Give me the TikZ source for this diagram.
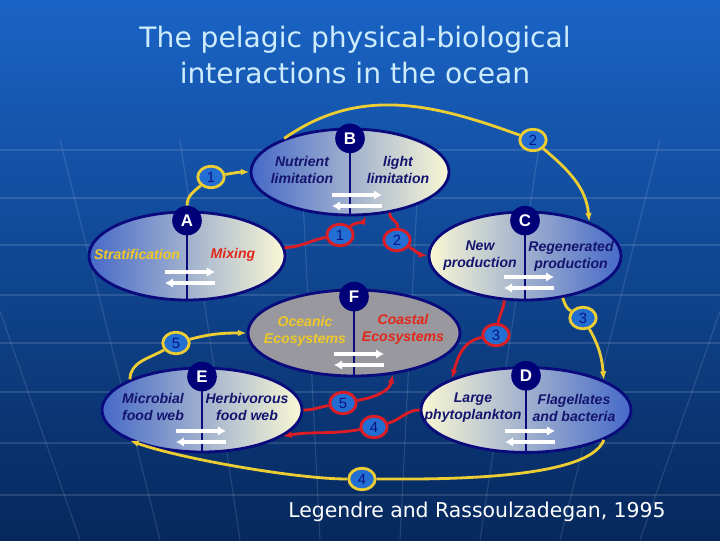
\documentclass[tikz,border=0pt]{standalone}
\usepackage{fontspec}
\setmainfont{Liberation Sans}
\newfontfamily\titlefont{DejaVu Sans}
\usetikzlibrary{arrows.meta,shapes.geometric}

\definecolor{bgtop}{RGB}{26,100,198}
\definecolor{bgbottom}{RGB}{6,40,92}
\definecolor{ovalline}{RGB}{10,10,125}
\definecolor{ovalblue}{RGB}{70,105,200}
\definecolor{ovalpale}{RGB}{250,248,212}
\definecolor{ovalgray}{RGB}{152,152,158}
\definecolor{tagnavy}{RGB}{0,0,120}
\definecolor{numblue}{RGB}{35,110,210}
\definecolor{numtext}{RGB}{10,20,130}
\definecolor{linkyellow}{RGB}{236,206,52}
\definecolor{linkred}{RGB}{222,28,36}
\definecolor{wordnavy}{RGB}{20,20,110}
\definecolor{wordyellow}{RGB}{238,200,40}
\definecolor{wordred}{RGB}{225,40,25}
\definecolor{titlecyan}{RGB}{205,236,252}

\begin{document}
\begin{tikzpicture}[x=0.025cm, y=0.025cm,
  oval/.style={ellipse, draw=ovalline, line width=2pt, inner sep=0pt},
  split/.style={draw=ovalline, line width=2pt},
  tag/.style={circle, fill=tagnavy, text=white, inner sep=0pt, minimum size=0.74cm,
    font=\bfseries\fontsize{12}{12}\selectfont},
  words/.style={align=center, font=\bfseries\itshape\fontsize{10}{12}\selectfont},
  twoway/.style={draw=white, line width=2.5pt, -{Latex[length=2mm, width=2.4mm]}},
  num/.style={ellipse, fill=numblue, line width=2pt, inner sep=0pt, minimum width=0.66cm,
    minimum height=0.54cm, text=numtext, font=\fontsize{10.5}{10.5}\selectfont},
  ynum/.style={num, draw=linkyellow},
  rnum/.style={num, draw=linkred},
  ylink/.style={draw=linkyellow, line width=2pt, -{Latex[length=2.2mm]}},
  rlink/.style={draw=linkred, line width=2pt, -{Latex[length=2.2mm]}},
  gridline/.style={draw=white, opacity=0.12, line width=0.8pt}]

  \useasboundingbox (0,0) rectangle (720,540);
  \shade[top color=bgtop, bottom color=bgbottom] (0,0) rectangle (720,540);

  % faint globe grid
  \begin{scope}
    \clip (0,0) rectangle (720,540);
    \draw[gridline] (0,390) -- (720,390) (0,342) -- (720,342) (0,295) -- (720,295)
      (0,245) -- (720,245) (0,197) -- (720,197) (0,148) -- (720,148)
      (0,97) -- (720,97) (0,45) -- (720,45);
    \draw[gridline] (-60,400) -- (80,0) (60,400) -- (160,0) (180,400) -- (240,0)
      (300,400) -- (320,0) (420,400) -- (400,0) (540,400) -- (480,0)
      (660,400) -- (560,0) (780,400) -- (640,0) (900,400) -- (720,0);
  \end{scope}

  \node[align=center, text=titlecyan, font=\titlefont\fontsize{20}{25}\selectfont] (title) at (355,485)
    {The pelagic physical-biological\\interactions in the ocean};

  % the six ovals
  \node[oval, minimum width=4.9cm, minimum height=2.2cm, left color=ovalblue, right color=ovalpale] (ellA) at (187,284) {};
  \node[oval, minimum width=4.95cm, minimum height=2.15cm, left color=ovalblue, right color=ovalpale] (ellB) at (350,368) {};
  \node[oval, minimum width=4.8cm, minimum height=2.2cm, left color=ovalpale, right color=ovalblue] (ellC) at (525,284) {};
  \node[oval, minimum width=5.3cm, minimum height=2.15cm, fill=ovalgray] (ellF) at (354,207) {};
  \node[oval, minimum width=5cm, minimum height=2.1cm, left color=ovalblue, right color=ovalpale] (ellE) at (202,130) {};
  \node[oval, minimum width=5.25cm, minimum height=2.12cm, left color=ovalpale, right color=ovalblue] (ellD) at (526,130) {};

  \draw[split] (ellA.north) -- (ellA.south);
  \draw[split] (ellB.north) -- (ellB.south);
  \draw[split] (ellC.north) -- (ellC.south);
  \draw[split] (ellF.north) -- (ellF.south);
  \draw[split] (ellE.north) -- (ellE.south);
  \draw[split] (ellD.north) -- (ellD.south);

  \node[tag] (labA) at ([yshift=-0.25cm]ellA.north) {A};
  \node[tag] (labB) at ([yshift=-0.27cm]ellB.north) {B};
  \node[tag] (labC) at ([yshift=-0.25cm]ellC.north) {C};
  \node[tag] (labF) at ([yshift=-0.2cm]ellF.north) {F};
  \node[tag] (labE) at ([yshift=-0.25cm]ellE.north) {E};
  \node[tag] (labD) at ([yshift=-0.24cm]ellD.north) {D};

  \node[words, text=wordyellow] (stratif) at (137,286) {Stratification};
  \node[words, text=wordred] (mixing) at (233,285) {Mixing};
  \node[words, text=wordnavy] (nutrient) at (302,370) {Nutrient\\limitation};
  \node[words, text=wordnavy] (light) at (398,370) {light\\limitation};
  \node[words, text=wordnavy] (newprod) at (480,284) {New\\production};
  \node[words, text=wordnavy] (regen) at (571,284) {Regenerated\\production};
  \node[words, text=wordyellow] (oceanic) at (305,209) {Oceanic\\Ecosystems};
  \node[words, text=wordred] (coastal) at (403,211) {Coastal\\Ecosystems};
  \node[words, text=wordnavy] (microbial) at (153,133) {Microbial\\food web};
  \node[words, text=wordnavy] (herbiv) at (247,133) {Herbivorous\\food web};
  \node[words, text=wordnavy] (large) at (473,132) {Large\\phytoplankton};
  \node[words, text=wordnavy] (flag) at (574,132) {Flagellates\\and bacteria};

  % two-way arrows under each split
  \draw[twoway] ([xshift=-0.55cm, yshift=-0.4cm]ellA.center) -- ++(50,0);
  \draw[twoway] ([xshift=0.7cm, yshift=-0.675cm]ellA.center) -- ++(-50,0);
  \draw[twoway] ([xshift=-0.45cm, yshift=-0.575cm]ellB.center) -- ++(50,0);
  \draw[twoway] ([xshift=0.8cm, yshift=-0.85cm]ellB.center) -- ++(-50,0);
  \draw[twoway] ([xshift=-0.525cm, yshift=-0.525cm]ellC.center) -- ++(50,0);
  \draw[twoway] ([xshift=0.725cm, yshift=-0.8cm]ellC.center) -- ++(-50,0);
  \draw[twoway] ([xshift=-0.5cm, yshift=-0.525cm]ellF.center) -- ++(50,0);
  \draw[twoway] ([xshift=0.75cm, yshift=-0.8cm]ellF.center) -- ++(-50,0);
  \draw[twoway] ([xshift=-0.65cm, yshift=-0.525cm]ellE.center) -- ++(50,0);
  \draw[twoway] ([xshift=0.6cm, yshift=-0.8cm]ellE.center) -- ++(-50,0);
  \draw[twoway] ([xshift=-0.525cm, yshift=-0.525cm]ellD.center) -- ++(50,0);
  \draw[twoway] ([xshift=0.725cm, yshift=-0.8cm]ellD.center) -- ++(-50,0);

  % numbered steps
  \node[ynum] (y1) at (211,363) {1};
  \node[ynum] (y2) at (533,400) {2};
  \node[ynum] (y3) at (583,222) {3};
  \node[ynum] (y4) at (362,61) {4};
  \node[ynum] (y5) at (176,197) {5};
  \node[rnum] (r1) at (340,305) {1};
  \node[rnum] (r2) at (397,300) {2};
  \node[rnum] (r3) at (496,205) {3};
  \node[rnum] (r4) at (374,113) {4};
  \node[rnum] (r5) at (343,137) {5};

  \draw[ylink] (labA) to[out=90, in=-140] (y1) to[out=10, in=180] (ellB.west);
  \draw[ylink] (ellB.153) to[out=35, in=160] (y2) to[out=-40, in=95] (ellC.28);
  \draw[ylink] (ellC.-48) to[out=-70, in=150] (y3) to[out=-60, in=95] (ellD.21);
  \draw[ylink] (ellD.-21) to[out=-110, in=0, looseness=0.5] (y4) to[out=180, in=-20, looseness=0.6] (ellE.203);
  \draw[ylink] (ellE.157) to[out=90, in=-150] (y5) to[out=15, in=180] (ellF.west);

  \draw[rlink] (ellA.5) to[out=0, in=190] (r1) to[out=40, in=-115] (ellB.-70);
  \draw[rlink] (ellB.-46) to[out=-95, in=85] (r2) to[out=-30, in=170] (ellC.west);
  \draw[rlink] (ellC.-115) to[out=-95, in=80] (r3) to[out=190, in=75] (ellD.157);
  \draw[rlink] (ellD.west) to[out=180, in=15] (r4) to[out=190, in=10] (ellE.-18);
  \draw[rlink] (ellE.east) to[out=0, in=190] (r5) to[out=10, in=-100] (ellF.-47);

  \node[text=white, font=\titlefont\fontsize{14.5}{16}\selectfont] (source) at (477,28)
    {Legendre and Rassoulzadegan, 1995};

\end{tikzpicture}
\end{document}
